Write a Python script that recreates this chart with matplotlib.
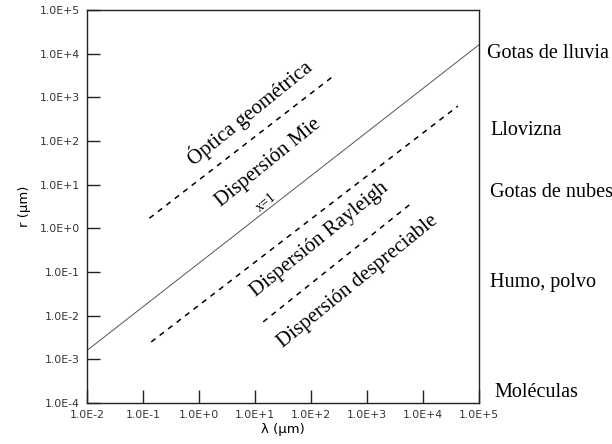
import numpy as np
import matplotlib.pyplot as plt

# axis ranges and tick labels
lam_ticks = [1e-2, 1e-1, 1e0, 1e1, 1e2, 1e3, 1e4, 1e5]
lam_labels = ['1.0E-2', '1.0E-1', '1.0E+0', '1.0E+1', '1.0E+2', '1.0E+3', '1.0E+4', '1.0E+5']
r_ticks = [1e-4, 1e-3, 1e-2, 1e-1, 1e0, 1e1, 1e2, 1e3, 1e4, 1e5]
r_labels = ['1.0E-4', '1.0E-3', '1.0E-2', '1.0E-1', '1.0E+0', '1.0E+1', '1.0E+2', '1.0E+3', '1.0E+4', '1.0E+5']

# x = 1 line (r = lambda / 2 pi)
lam_x1 = [1e-2, 1e5]
r_x1 = [1.6e-3, 1.6e4]

# regime boundaries (dashed)
lam_geo = [0.13, 270]
r_geo = [1.7, 3300]
lam_ray = [0.14, 4.2e4]
r_ray = [2.5e-3, 630]
lam_neg = [14, 6.6e3]
r_neg = [7.2e-3, 4.0]

# regime names and their centres (lambda, r)
regimes = ['Óptica geométrica', 'Dispersión Mie', 'Dispersión Rayleigh', 'Dispersión despreciable']
regime_lam = [8.1, 17, 145, 690]
regime_r = [460, 31, 0.54, 0.059]

# particle types on the right
particles = ['Gotas de lluvia', 'Llovizna', 'Gotas de nubes', 'Humo, polvo', 'Moléculas']
particle_x = [487, 490, 490, 490, 494]
particle_y = [58, 135, 197, 287, 397]

W, H = 612, 444
fig = plt.figure(figsize=(W / 100, H / 100), dpi=100, facecolor='w')
ax = fig.add_axes([87 / W, 41 / H, 392 / W, 393 / H])
ax.set_xscale('log')
ax.set_yscale('log')
ax.set_xlim(1e-2, 1e5)
ax.set_ylim(1e-4, 1e5)

ax.plot(lam_x1, r_x1, color='#555555', lw=0.7)
for lx, ry in [(lam_geo, r_geo), (lam_ray, r_ray), (lam_neg, r_neg)]:
    ax.plot(lx, ry, color='k', lw=1.1, dashes=(3.5, 3.5))

serif = 'Liberation Serif'
for name, lx, ry in zip(regimes, regime_lam, regime_r):
    ax.text(lx, ry, name, family=serif, fontsize=15, rotation=39,
            ha='center', va='center', rotation_mode='anchor')
ax.text(15.7, 4.0, 'x=1', family=serif, fontsize=10, rotation=39,
        ha='center', va='center', rotation_mode='anchor')

for name, px, py in zip(particles, particle_x, particle_y):
    fig.text(px / W, 1 - py / H, name, family=serif, fontsize=14.5,
             ha='left', va='baseline')

ax.set_xticks(lam_ticks)
ax.set_xticklabels(lam_labels)
ax.set_yticks(r_ticks)
ax.set_yticklabels(r_labels)
ax.minorticks_off()
ax.tick_params(direction='in', length=9.5, width=1.0, labelsize=7.8, pad=5,
               labelcolor='#333333', color='#222222')
for sp in ax.spines.values():
    sp.set_linewidth(1.0)
    sp.set_color('#222222')

ax.set_xlabel('λ (μm)', fontsize=9.5, labelpad=2)
ax.set_ylabel('r (μm)', fontsize=9.5, labelpad=6)

plt.savefig('out.png', dpi=100, facecolor='w')
